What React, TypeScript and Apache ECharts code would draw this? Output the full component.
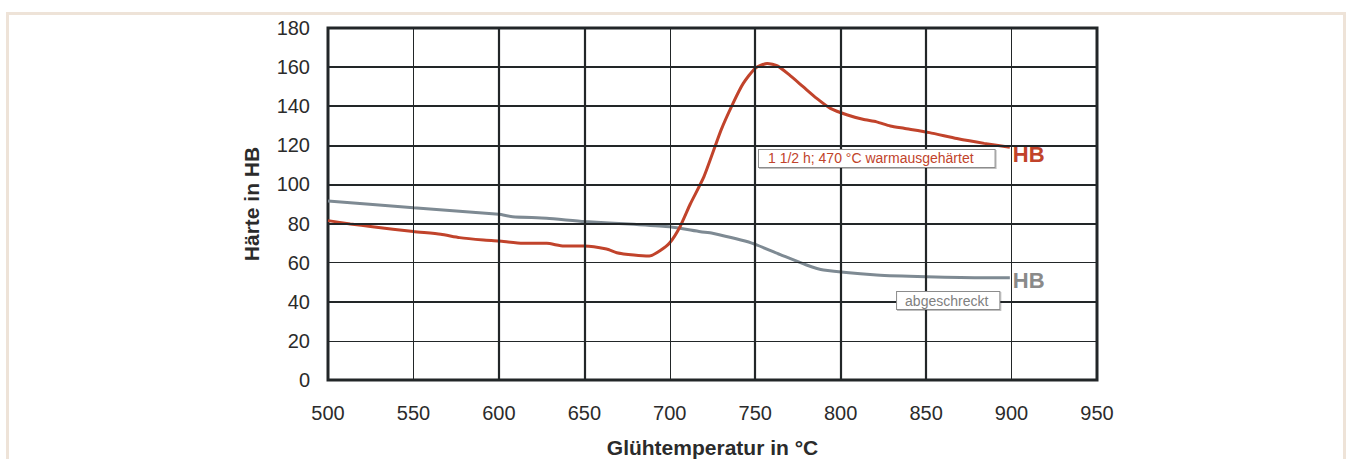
import React, { useEffect, useRef } from "react";
import * as echarts from "echarts";

// Glühtemperatur (°C) and Härte (HB)
const redTemps = [500, 513, 526, 550, 566, 577, 591, 600, 614, 628, 638, 650, 663, 669, 679, 688, 694, 700, 706, 712, 720, 730, 737, 743, 750, 757, 763, 770, 778, 786, 794, 804, 813, 821, 829, 837, 852, 868, 884, 899];
const redHB = [81.5, 79.8, 78.4, 75.9, 74.5, 72.8, 71.6, 71.1, 69.9, 69.9, 68.5, 68.5, 67, 65.1, 63.9, 63.4, 66, 70.2, 78.4, 90, 104, 127.8, 141.5, 151.7, 159.4, 161.9, 160.6, 156, 150, 144, 138.9, 135.5, 133.3, 132, 129.9, 128.7, 126.5, 123.5, 121, 119];

const grayTemps = [500, 550, 600, 608, 628, 650, 679, 700, 718, 725, 748, 765, 780, 790, 821, 850, 885, 899];
const grayHB = [91.5, 88.1, 84.7, 83.5, 82.7, 81, 79.6, 78.4, 75.8, 75, 70, 64, 58.8, 56.2, 53.7, 52.8, 52.3, 52.3];

const xThick = [600, 650, 750, 800, 850];
const xThin = [550, 700, 900];
const yThick = [40, 80, 100, 120, 140, 160];
const yThin = [20, 60];

const redLabel = "1 1/2 h; 470 °C warmausgehärtet";
const grayLabel = "abgeschreckt";
const redLabelAt = [752.2, 113.3];
const grayLabelAt = [833, 40.6];

const RED = "#c1432b";
const GRAY = "#7e8a93";
const FONT = "Liberation Sans, Arial, sans-serif";

export default function App() {
  const ref = useRef<HTMLDivElement>(null);
  useEffect(() => {
    if (!ref.current) return;
    const chart = echarts.init(ref.current, undefined, { renderer: "svg" });
    const gridLines = [
      ...xThick.map((v) => ({ xAxis: v, lineStyle: { width: 2.2, color: "#222628", type: "solid" } })),
      ...xThin.map((v) => ({ xAxis: v, lineStyle: { width: 1, color: "#222628", type: "solid" } })),
      ...yThick.map((v) => ({ yAxis: v, lineStyle: { width: 2.2, color: "#222628", type: "solid" } })),
      ...yThin.map((v) => ({ yAxis: v, lineStyle: { width: 1, color: "#222628", type: "solid" } })),
    ];
    const boxLabel = (color: string, pad: number[]) => ({
      show: true,
      position: "right",
      distance: 0,
      color,
      fontSize: 14,
      fontFamily: FONT,
      lineHeight: 15,
      backgroundColor: "#ffffff",
      borderColor: "#8c8c8c",
      borderWidth: 1,
      padding: pad,
      shadowColor: "rgba(0,0,0,0.25)",
      shadowOffsetX: 1,
      shadowOffsetY: 1,
      shadowBlur: 1,
    });
    chart.setOption({
      animation: false,
      backgroundColor: "#ffffff",
      graphic: [
        {
          type: "rect",
          shape: { x: 7.5, y: 13.5, width: 1337, height: 500 },
          style: { fill: "none", stroke: "#eee3d8", lineWidth: 3 },
          z: -10,
        },
      ],
      grid: {
        left: 328,
        top: 28,
        right: 253,
        bottom: 79,
        show: true,
        borderColor: "#222628",
        borderWidth: 3,
        backgroundColor: "transparent",
        containLabel: false,
        outerBoundsMode: "none",
      },
      xAxis: {
        type: "value",
        min: 500,
        max: 950,
        interval: 50,
        axisLine: { show: false },
        axisTick: { show: false },
        splitLine: { show: false },
        axisLabel: { fontSize: 20, color: "#2b2b2b", fontFamily: FONT, margin: 23 },
        name: "Glühtemperatur in °C",
        nameLocation: "middle",
        nameGap: 57,
        nameTextStyle: { fontSize: 21, fontWeight: "bold", color: "#2b2b2b", fontFamily: FONT },
      },
      yAxis: {
        type: "value",
        min: 0,
        max: 180,
        interval: 20,
        axisLine: { show: false },
        axisTick: { show: false },
        splitLine: { show: false },
        axisLabel: { fontSize: 20, color: "#2b2b2b", fontFamily: FONT, margin: 18 },
        name: "Härte in HB",
        nameLocation: "middle",
        nameRotate: 90,
        nameGap: 66,
        nameTextStyle: { fontSize: 21, fontWeight: "bold", color: "#2b2b2b", fontFamily: FONT },
      },
      series: [
        {
          type: "line",
          data: [],
          silent: true,
          z: 1,
          markLine: {
            silent: true,
            symbol: "none",
            label: { show: false },
            emphasis: { disabled: true },
            data: gridLines,
          },
        },
        {
          type: "line",
          name: "abgeschreckt",
          data: grayTemps.map((t, i) => [t, grayHB[i]]),
          showSymbol: false,
          smooth: 0.2,
          z: 3,
          lineStyle: { color: GRAY, width: 3 },
          endLabel: {
            show: true,
            formatter: "HB",
            color: "#8a8a8a",
            fontSize: 22,
            fontWeight: "bold",
            fontFamily: FONT,
            distance: 3,
            offset: [0, 3],
          },
          markPoint: {
            symbol: "rect",
            symbolSize: 0,
            silent: true,
            data: [{ coord: grayLabelAt, value: grayLabel }],
            label: { ...boxLabel("#808080", [1, 11, 1, 8]), formatter: grayLabel },
          },
        },
        {
          type: "line",
          name: "warmausgehärtet",
          data: redTemps.map((t, i) => [t, redHB[i]]),
          showSymbol: false,
          smooth: 0.2,
          z: 4,
          lineStyle: { color: RED, width: 3 },
          endLabel: {
            show: true,
            formatter: "HB",
            color: RED,
            fontSize: 22,
            fontWeight: "bold",
            fontFamily: FONT,
            distance: 3,
            offset: [0, 7],
          },
          markPoint: {
            symbol: "rect",
            symbolSize: 0,
            silent: true,
            data: [{ coord: redLabelAt, value: redLabel }],
            label: { ...boxLabel(RED, [1, 21, 1, 9]), formatter: redLabel },
          },
        },
      ],
    });
    return () => chart.dispose();
  }, []);
  return (
    <div
      ref={ref}
      style={{ position: "absolute", left: 0, top: 0, width: 1350, height: 459 }}
    />
  );
}
